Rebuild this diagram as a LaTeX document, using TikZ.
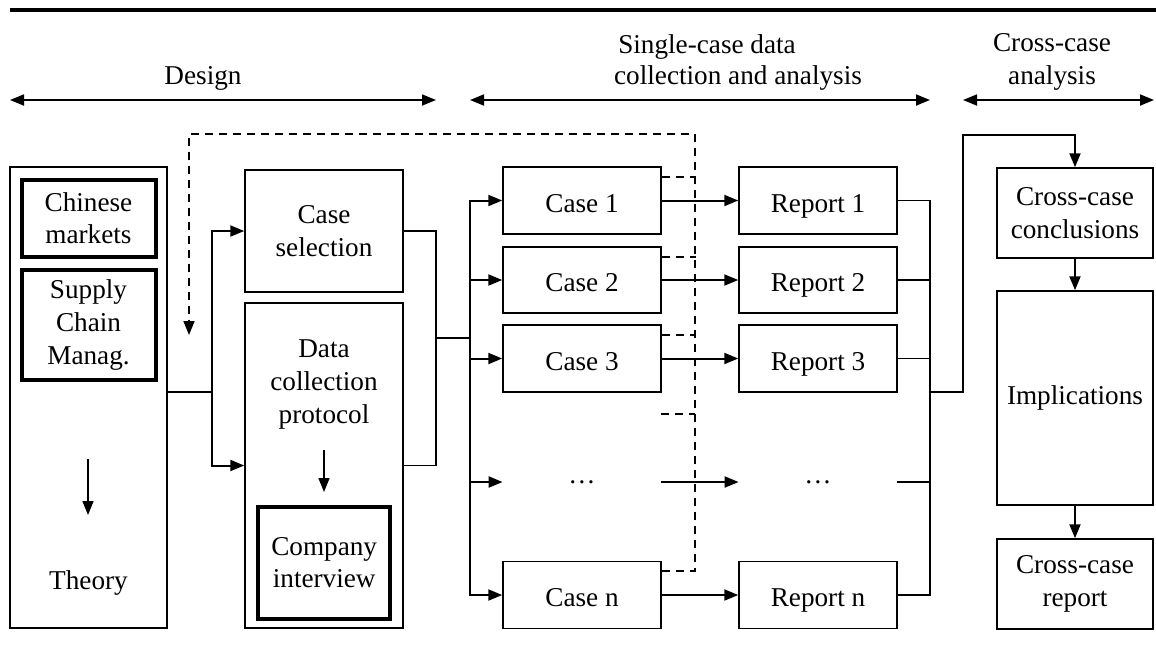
\documentclass[tikz,border=0pt]{standalone}
\usepackage{fontspec}
\setmainfont{Liberation Serif}
\usetikzlibrary{arrows.meta}
\begin{document}
\begin{tikzpicture}[x=0.5pt,y=-0.5pt,
  font=\fontsize{13.6pt}{16.3pt}\selectfont,
  box/.style={draw, line width=0.75pt, inner sep=0pt, align=center, minimum width=79pt},
  one/.style={text height=11.5pt, text depth=0pt},
  tbox/.style={draw, line width=2pt, inner sep=0pt, align=center},
  lbl/.style={inner sep=0pt, align=center},
  tip/.style={-{Triangle[length=7pt,width=5.5pt]}},
  arr/.style={tip, line width=1pt},
  ln/.style={line width=0.75pt},
  dsh/.style={dash pattern=on 4pt off 3pt, line width=0.8pt},
  hdr/.style={{Triangle[length=7pt,width=5.5pt]}-{Triangle[length=7pt,width=5.5pt]}, line width=0.9pt}]
\useasboundingbox (0,0) rectangle (1156,644);

% top rule
\coordinate (topL) at (10,10);
\coordinate (topR) at (1156,10);
\draw[line width=2pt] (topL) -- (topR);

% header arrows and labels
\coordinate (dL) at (10,100);   \coordinate (dR) at (436,100);
\coordinate (sL) at (470,100);  \coordinate (sR) at (930,100);
\coordinate (xL) at (963,100);  \coordinate (xR) at (1154,100);
\draw[hdr] (dL) -- (dR);
\draw[hdr] (sL) -- (sR);
\draw[hdr] (xL) -- (xR);
\node[lbl] (tdesign) at (203,78) {Design};
\node[lbl] (tsc1) at (707,47) {Single-case data};
\node[lbl] (tsc2) at (738,78) {collection and analysis};
\node[lbl] (tcc) at (1052,62) {Cross-case\\analysis};

% theory column
\node[box, minimum width=78.5pt, minimum height=230.5pt] (th) at (88.5,397.5) {};
\node[tbox, minimum width=67pt, minimum height=38.5pt] (cm) at (88.5,218.2) {Chinese\\markets};
\node[tbox, minimum width=67pt, minimum height=55.2pt] (scm) at (88.5,325) {Supply\\Chain\\Manag.};
\coordinate (ta1) at (88,459);
\coordinate (ta2) at (88,515);
\draw[tip, line width=0.8pt] (ta1) -- (ta2);
\node[lbl] (thy) at (88.5,583) {Theory};

% design column
\node[box, minimum height=61pt] (cs) at (324,231) {Case\\selection};
\node[box, minimum height=162.5pt] (dc) at (324,465.5) {};
\node[lbl] (dct) at (324,384.5) {Data\\collection\\protocol};
\node[tbox, minimum width=66pt, minimum height=56pt] (ci) at (324.2,562.5) {Company\\interview};
\coordinate (da1) at (324,450);
\coordinate (da2) at (324,492);
\draw[tip, line width=0.8pt] (da1) -- (da2);

% cases
\node[box, one, minimum height=33.5pt] (c1) at (582,200.5) {Case 1};
\node[box, one, minimum height=33pt] (c2) at (582,280) {Case 2};
\node[box, one, minimum height=33.5pt] (c3) at (582,358.5) {Case 3};
\node[lbl, minimum width=79pt, minimum height=33.5pt] (cd) at (582,482) {…};
\node[box, one, minimum height=33.5pt] (cn) at (582,595) {Case n};

% reports
\node[box, one, minimum height=33.5pt] (r1) at (818,200.5) {Report 1};
\node[box, one, minimum height=33pt] (r2) at (818,280) {Report 2};
\node[box, one, minimum height=33.5pt] (r3) at (818,358.5) {Report 3};
\node[lbl, minimum width=79pt, minimum height=33.5pt] (rd) at (818,482) {…};
\node[box, one, minimum height=33.5pt] (rn) at (818,595) {Report n};

% cross-case column
\node[box, minimum width=78pt, minimum height=45pt] (ccc) at (1075,213) {Cross-case\\conclusions};
\node[box, minimum width=78pt, minimum height=107pt] (impl) at (1075,398) {Implications};
\node[box, minimum width=78pt, minimum height=45pt] (ccr) at (1075,584) {Cross-case\\report};

% theory -> design
\coordinate (j1) at (212,392);
\draw[ln] (th.east |- j1) -- (j1);
\draw[arr] (j1) |- (cs.west);
\draw[arr] (j1) |- (dc.west);

% design -> cases
\coordinate (j2) at (436,338);
\coordinate (j3) at (470,338);
\draw[ln] (cs.east) -| (j2);
\draw[ln] (dc.east) -| (j2);
\draw[ln] (j2) -- (j3);
\foreach \c in {c1,c2,c3,cd,cn} \draw[arr] (j3) |- (\c.west);

% cases -> reports
\foreach \a/\b in {c1/r1,c2/r2,c3/r3,cd/rd,cn/rn} \draw[arr] (\a.east) -- (\b.west);

% dashed feedback
\coordinate (dtop) at (695,134);
\coordinate (dleft) at (189,134);
\coordinate (dend) at (189,335);
\coordinate (d4) at (661,414);
\draw[dsh, tip] ([yshift=-5.2pt]cn.north east) -| (dtop) -- (dleft) -- (dend);
\foreach \c in {c1,c2,c3} \draw[dsh] ([yshift=-5.5pt]\c.north east) -- ++(34,0);
\draw[dsh] (d4) -- (dtop |- d4);

% reports -> cross-case
\coordinate (j4) at (930,392);
\coordinate (j5) at (963,135);
\foreach \r in {r1,r2,r3,rd,rn} \draw[ln] (\r.east) -| (j4);
\draw[arr] (j4) -| (j5) -| (ccc.north);
\draw[arr] (ccc) -- (impl);
\draw[arr] (impl) -- (ccr);
\end{tikzpicture}
\end{document}
